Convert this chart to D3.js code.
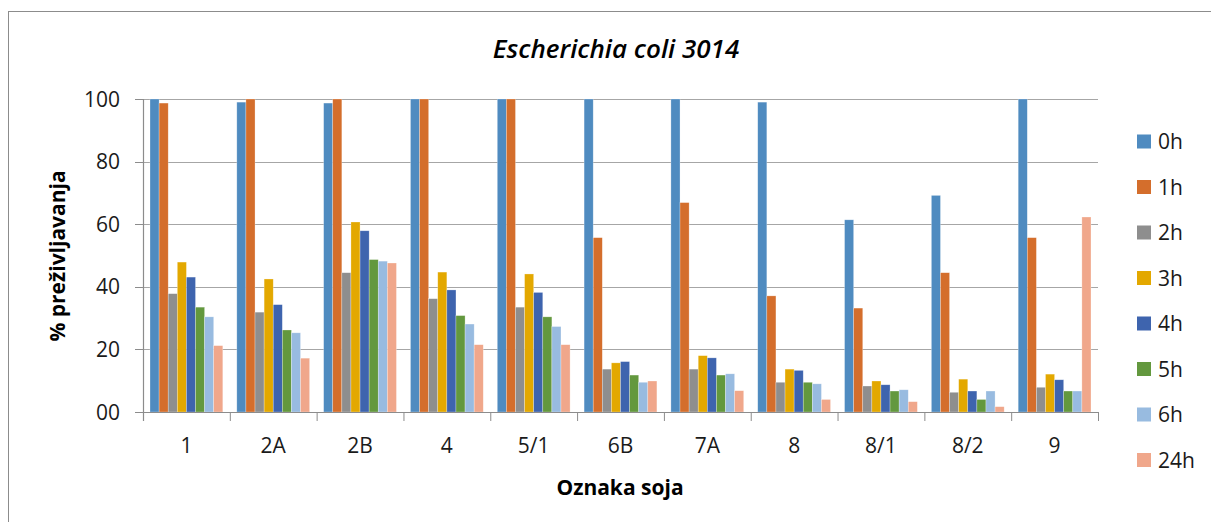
<!DOCTYPE html>
<html>
<head>
<meta charset="utf-8">
<script src="https://cdn.jsdelivr.net/npm/d3@7"></script>
<style>
  body { margin: 0; background: #fff; }
  svg { font-family: 'Open Sans', Lato, sans-serif; }
</style>
</head>
<body>
<div id="chart"></div>
<script>
const categories = ['1', '2A', '2B', '4', '5/1', '6B', '7A', '8', '8/1', '8/2', '9'];
const seriesNames = ['0h', '1h', '2h', '3h', '4h', '5h', '6h', '24h'];
const h0 = [100, 99.0, 98.7, 100, 100, 100, 100, 99.0, 61.4, 69.2, 100];
const h1 = [98.7, 100, 100, 100, 100, 55.7, 66.9, 37.1, 33.2, 44.5, 55.7];
const h2 = [37.8, 31.9, 44.5, 36.2, 33.5, 13.7, 13.7, 9.5, 8.3, 6.3, 7.9];
const h3 = [47.9, 42.5, 60.7, 44.7, 44.1, 15.7, 18.0, 13.7, 9.9, 10.5, 12.1];
const h4 = [43.1, 34.3, 57.9, 39.0, 38.2, 16.1, 17.3, 13.3, 8.7, 6.7, 10.3];
const h5 = [33.5, 26.2, 48.7, 30.8, 30.4, 11.8, 11.8, 9.5, 6.7, 4.0, 6.7];
const h6 = [30.4, 25.3, 48.2, 28.1, 27.3, 9.5, 12.2, 9.0, 7.1, 6.7, 6.7];
const h24 = [21.2, 17.2, 47.6, 21.5, 21.5, 9.9, 6.8, 4.0, 3.3, 1.7, 62.3];
const yTicks = [0, 20, 40, 60, 80, 100];
const yTickLabels = ['00', '20', '40', '60', '80', '100'];
const colors = ['#4f8bc0', '#d46e2c', '#8e8e8e', '#e3a800', '#3e64ae', '#63983e', '#98bbe0', '#f0a78b'];

const seriesValues = [h0, h1, h2, h3, h4, h5, h6, h24];

const width = 1211;
const height = 522;
const plot = { left: 143, right: 1098, top: 99, bottom: 412 };

const svg = d3.select('#chart')
  .append('svg')
  .attr('width', width)
  .attr('height', height);

// outer frame
svg.append('rect')
  .attr('x', 8.5).attr('y', 11.5)
  .attr('width', 1220).attr('height', 530)
  .attr('fill', 'none')
  .attr('stroke', '#8c8c8c')
  .attr('stroke-width', 1);

const x0 = d3.scaleBand().domain(categories).range([plot.left, plot.right]).padding(0);
const x1 = d3.scaleBand().domain(seriesNames).range([0, x0.bandwidth()])
  .paddingInner(0).paddingOuter(0.77);
const y = d3.scaleLinear().domain([0, 100]).range([plot.bottom, plot.top]);

// grid
svg.append('g')
  .selectAll('line')
  .data(yTicks.filter(t => t > 0))
  .enter()
  .append('line')
  .attr('x1', plot.left - 8).attr('x2', plot.right)
  .attr('y1', d => Math.round(y(d)) + 0.5)
  .attr('y2', d => Math.round(y(d)) + 0.5)
  .attr('stroke', '#a6a6a6')
  .attr('stroke-width', 1.2);

// bars
const rows = categories.map((c, i) => ({ cat: c, vals: seriesValues.map((s, j) => ({ key: seriesNames[j], v: s[i], j })) }));
const groups = svg.append('g')
  .selectAll('g')
  .data(rows)
  .enter()
  .append('g')
  .attr('transform', d => `translate(${x0(d.cat)},0)`);

groups.selectAll('rect')
  .data(d => d.vals)
  .enter()
  .append('rect')
  .attr('x', d => x1(d.key))
  .attr('width', x1.bandwidth())
  .attr('y', d => y(d.v))
  .attr('height', d => y(0) - y(d.v))
  .attr('fill', d => colors[d.j])
  .attr('stroke', 'rgba(255,255,255,0.45)')
  .attr('stroke-width', 0.6);

// X axis
const xAxis = svg.append('g')
  .attr('transform', `translate(0, ${plot.bottom})`);
xAxis.append('line')
  .attr('x1', plot.left).attr('x2', plot.right)
  .attr('y1', 0.5).attr('y2', 0.5)
  .attr('stroke', '#8c8c8c').attr('stroke-width', 1.2);
xAxis.selectAll('.xtick')
  .data(categories.concat(['__end']))
  .enter()
  .append('line')
  .attr('x1', d => (d === '__end' ? plot.right : x0(d)) + 0.5)
  .attr('x2', d => (d === '__end' ? plot.right : x0(d)) + 0.5)
  .attr('y1', 0).attr('y2', 9)
  .attr('stroke', '#8c8c8c');
xAxis.selectAll('text')
  .data(categories)
  .enter()
  .append('text')
  .attr('x', d => x0(d) + x0.bandwidth() / 2)
  .attr('y', 41)
  .attr('text-anchor', 'middle')
  .attr('font-size', 21)
  .attr('fill', '#1a1a1a')
  .text(d => d);

// Y axis
const yAxis = svg.append('g');
yAxis.append('line')
  .attr('x1', plot.left + 0.5).attr('x2', plot.left + 0.5)
  .attr('y1', plot.top).attr('y2', plot.bottom + 9)
  .attr('stroke', '#8c8c8c').attr('stroke-width', 1.2);
yAxis.selectAll('.ytick')
  .data(yTicks)
  .enter()
  .append('line')
  .attr('x1', plot.left - 8).attr('x2', plot.left)
  .attr('y1', d => Math.round(y(d)) + 0.5)
  .attr('y2', d => Math.round(y(d)) + 0.5)
  .attr('stroke', '#8c8c8c');
yAxis.selectAll('text')
  .data(yTicks)
  .enter()
  .append('text')
  .attr('x', 120)
  .attr('y', d => y(d))
  .attr('dy', '0.36em')
  .attr('text-anchor', 'end')
  .attr('font-size', 21)
  .attr('fill', '#1a1a1a')
  .text((d, i) => yTickLabels[i]);

// title and axis labels
svg.append('text')
  .attr('x', 616).attr('y', 58)
  .attr('text-anchor', 'middle')
  .attr('font-size', 26)
  .attr('font-style', 'italic')
  .attr('font-weight', 600)
  .attr('fill', '#000')
  .text('Escherichia coli 3014');

svg.append('text')
  .attr('transform', 'translate(65, 256) rotate(-90)')
  .attr('text-anchor', 'middle')
  .attr('font-size', 21)
  .attr('font-weight', 'bold')
  .attr('fill', '#000')
  .text('% preživljavanja');

svg.append('text')
  .attr('x', 620).attr('y', 495)
  .attr('text-anchor', 'middle')
  .attr('font-size', 21)
  .attr('font-weight', 'bold')
  .attr('fill', '#000')
  .text('Oznaka soja');

// legend
const legend = svg.append('g')
  .selectAll('g')
  .data(seriesNames)
  .enter()
  .append('g')
  .attr('transform', (d, i) => `translate(1137, ${141.5 + i * 45.5})`);
legend.append('rect')
  .attr('x', 0).attr('y', -7)
  .attr('width', 14).attr('height', 14)
  .attr('fill', (d, i) => colors[i]);
legend.append('text')
  .attr('x', 21).attr('y', 0)
  .attr('dy', '0.36em')
  .attr('font-size', 21)
  .attr('fill', '#1a1a1a')
  .text(d => d);
</script>
</body>
</html>
